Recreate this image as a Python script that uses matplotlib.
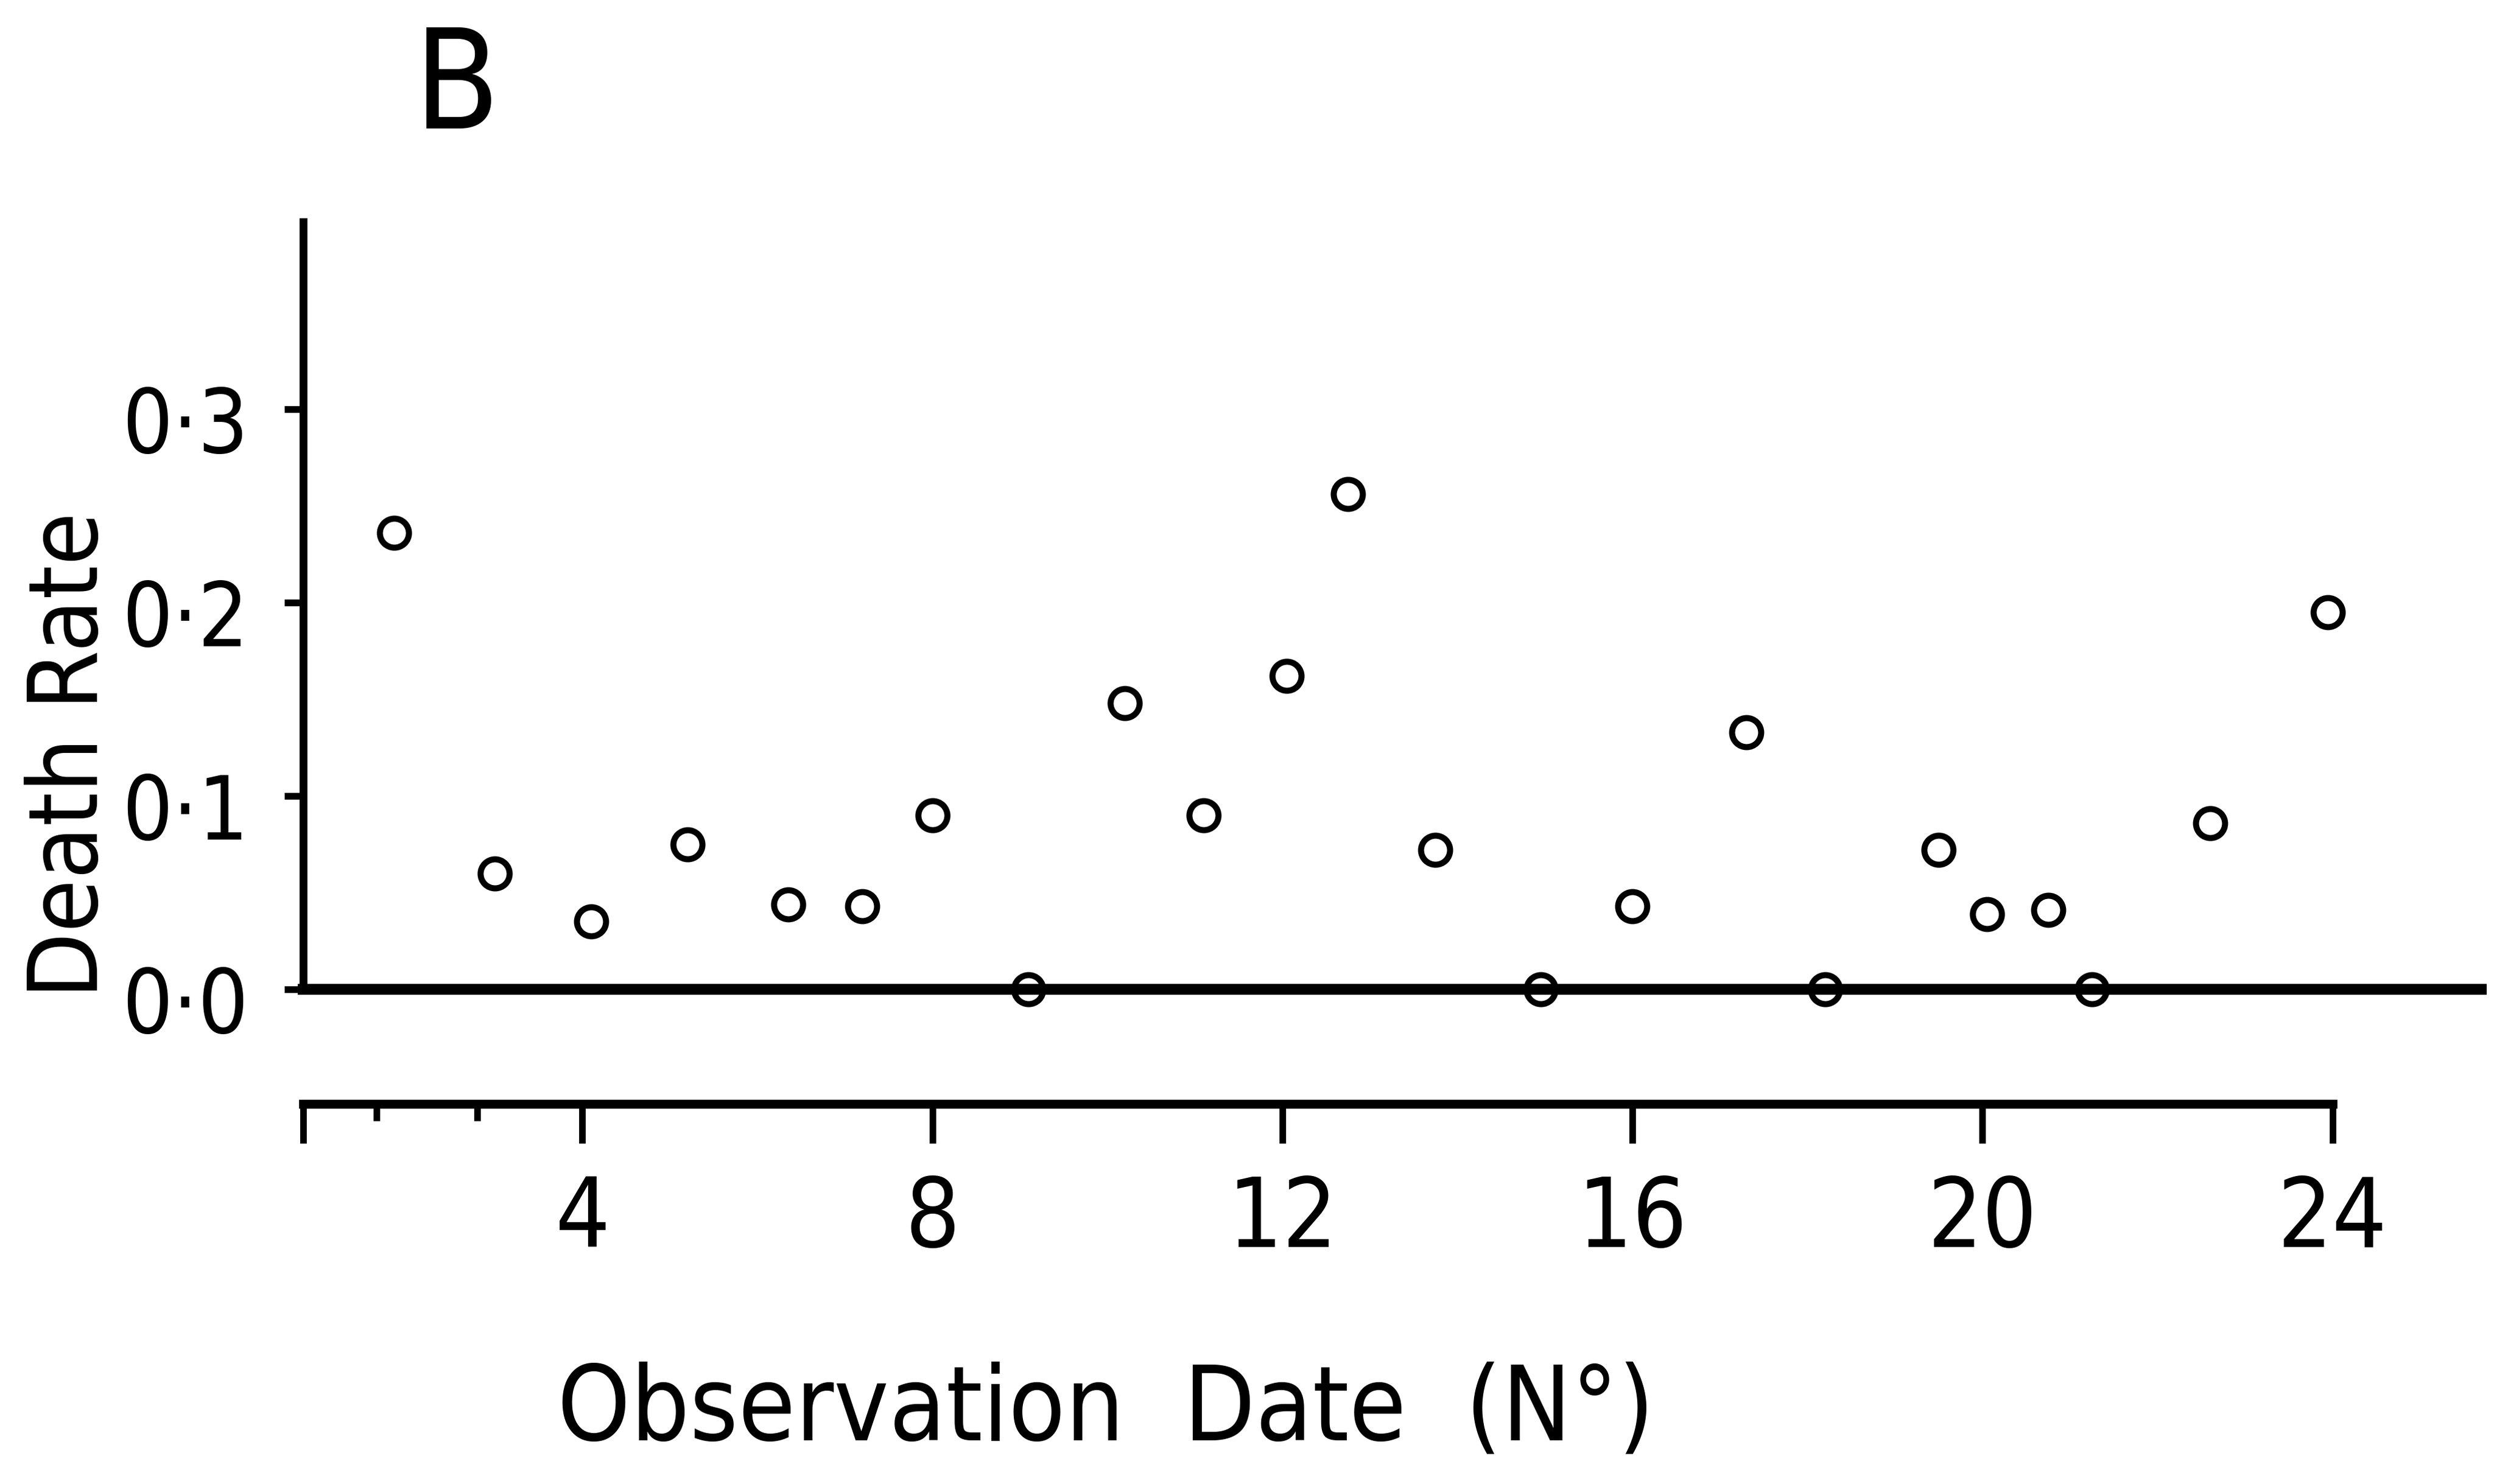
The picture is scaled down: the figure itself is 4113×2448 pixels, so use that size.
import matplotlib
matplotlib.use("Agg")
import matplotlib.pyplot as plt
from matplotlib import font_manager as fm
from matplotlib.transforms import ScaledTranslation

# Observation data
obs_date = [1.85, 3.0, 4.1, 5.2, 6.35, 7.2, 8.0, 9.1, 10.2, 11.1, 12.05, 12.75,
            13.75, 14.95, 16.0, 17.3, 18.2, 19.5, 20.05, 20.75, 21.25, 22.6, 23.95]
death_rate = [0.236, 0.060, 0.035, 0.075, 0.044, 0.043, 0.090, 0.0, 0.148, 0.090,
              0.162, 0.256, 0.072, 0.0, 0.043, 0.133, 0.0, 0.072, 0.039, 0.041,
              0.0, 0.086, 0.195]

y_ticks = [0.0, 0.1, 0.2, 0.3]
y_tick_labels = ["0·0", "0·1", "0·2", "0·3"]
x_ticks = [4, 8, 12, 16, 20, 24]
x_tick_labels = ["4", "8", "12", "16", "20", "24"]
x_minor_ticks = [1.65, 2.8]
panel_label = "B"
x_title = "Observation  Date  (N°)"
y_title = "Death Rate"


def find_narrow_font():
    """Return (family, stretch) of an installed upright condensed sans font."""
    preferred = ["Liberation Sans Narrow", "DejaVu Sans", "Roboto", "Open Sans",
                 "Noto Sans", "Lato", "Inter"]
    found = []
    for f in fm.fontManager.ttflist:
        st = str(f.stretch).lower()
        narrow = ("condensed" in st or "narrow" in f.name.lower()
                  or "condensed" in f.name.lower())
        if not narrow or "extra" in st or "ultra" in st:
            continue
        if f.style != "normal" or f.weight not in (400, "normal", "regular", "book"):
            continue
        fn = f.fname.lower()
        if any(k in fn for k in ("bold", "italic", "oblique", "light", "thin",
                                 "medium", "black", "semibold")):
            continue
        rank = next((i for i, p in enumerate(preferred) if f.name.startswith(p)),
                    len(preferred))
        found.append((rank, f.name, f.stretch))
    if not found:
        return None
    found.sort(key=lambda t: t[0])
    return found[0][1], found[0][2]


narrow = find_narrow_font()
if narrow is not None:
    plt.rcParams["font.family"] = [narrow[0], "DejaVu Sans"]
    plt.rcParams["font.stretch"] = narrow[1]
    k = 1.0
else:
    plt.rcParams["font.family"] = ["Liberation Sans", "DejaVu Sans"]
    k = 0.85

W, H, DPI = 4113, 2448, 300
fig = plt.figure(figsize=(W / DPI, H / DPI), dpi=DPI)
fig.patch.set_facecolor("white")


def fx(px):
    return px / W


def fy(py):
    return 1 - py / H


X0, X1 = 0.81, 25.7
Y1 = 0.397
left_px, right_px = 500, 4092
zero_px = 1632
top_px = zero_px - Y1 * 3190   # pixel row of the top of the value axis

# main scatter panel
ax = fig.add_axes([fx(left_px), fy(zero_px),
                   (right_px - left_px) / W, (zero_px - top_px) / H])
ax.set_xlim(X0, X1)
ax.set_ylim(0, Y1)
ax.plot(obs_date, death_rate, linestyle="none", marker="o", ms=11.5,
        mfc="none", mec="black", mew=2.4, clip_on=False, zorder=5)
ax.spines["top"].set_visible(False)
ax.spines["right"].set_visible(False)
ax.spines["left"].set_linewidth(3.1)
ax.spines["bottom"].set_linewidth(4.3)
ax.tick_params(axis="x", bottom=False, labelbottom=False)
ax.set_yticks(y_ticks, y_tick_labels)
ax.tick_params(axis="y", direction="out", length=7.5, width=2.7, pad=14,
               labelsize=35 * k)
for lab in ax.get_yticklabels():
    lab.set_transform(lab.get_transform()
                      + ScaledTranslation(0, -4 / 72, fig.dpi_scale_trans))

# separate date axis below the panel
bx = fig.add_axes([fx(left_px), fy(1821), (right_px - left_px) / W, 0.001])
bx.set_xlim(X0, X1)
bx.patch.set_visible(False)
for s in ["top", "right", "left"]:
    bx.spines[s].set_visible(False)
bx.spines["bottom"].set_bounds(X0, x_ticks[-1])
bx.spines["bottom"].set_linewidth(3.5)
bx.set_yticks([])
bx.set_xticks([X0] + x_ticks, [""] + x_tick_labels)
bx.set_xticks(x_minor_ticks, minor=True)
bx.tick_params(axis="x", which="major", direction="out", length=15.5,
               width=2.6, pad=12, labelsize=38 * k)
bx.tick_params(axis="x", which="minor", direction="out", length=6.7,
               width=2.6)

# titles
fig.text(fx(683), fy(212), panel_label, ha="left", va="baseline", fontsize=55)
fig.text(fx(919), fy(2375), x_title, ha="left", va="baseline", fontsize=41 * k)
fig.text(fx(161), fy(1647), y_title, ha="left", va="baseline", fontsize=38 * k,
         rotation=90, rotation_mode="anchor")

fig.savefig("out.png", dpi=DPI, facecolor="white")
